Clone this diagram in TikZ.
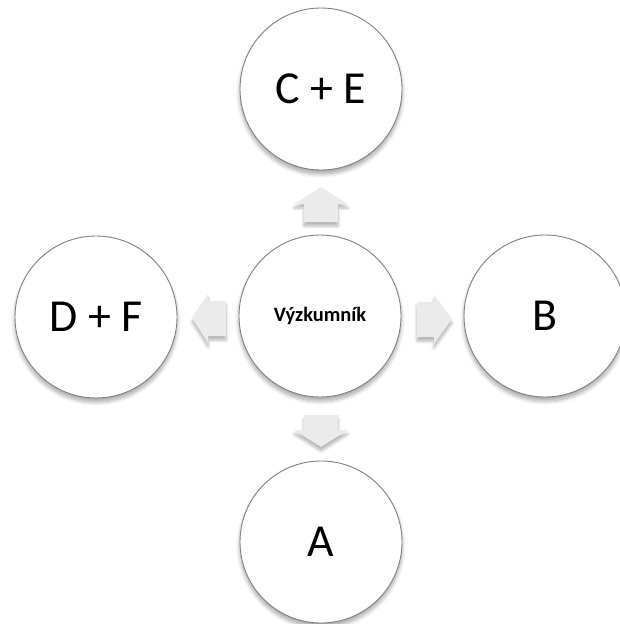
\documentclass[tikz,border=0pt]{standalone}
\usepackage{fontspec}
\setmainfont{Carlito}
\usetikzlibrary{shadows.blur}
\begin{document}
\begin{tikzpicture}[x=1bp,y=-1bp,
  bubble/.style={circle,draw=black!50,line width=0.9bp,fill=white,minimum size=162bp,inner sep=0pt,
    blur shadow={shadow xshift=0bp,shadow yshift=-4bp,shadow blur steps=8,shadow blur radius=4bp,shadow opacity=35},
    font=\fontsize{46}{54}\selectfont},
  hub/.style={bubble,font=\bfseries\fontsize{20.5}{24}\selectfont},
  blockarrow/.style={fill=black!8,draw=none,
    blur shadow={shadow xshift=0bp,shadow yshift=-4bp,shadow blur steps=6,shadow blur radius=3bp,shadow opacity=30}}
]
\useasboundingbox (0,0) rectangle (620,624);
\node[hub] (hub) at (320,316) {Výzkumník};
\node[bubble] (ce) at (321,89) {C + E};
\node[bubble] (df) at (96,317) {D + F};
\node[bubble] (b) at (545,316) {B};
\node[bubble] (a) at (321,542) {A};
% up arrow
\path[blockarrow] (321,187) -- (348,204) -- (338,204) -- (338,222) -- (304,222) -- (304,204) -- (294,204) -- cycle;
% down arrow
\path[blockarrow] (321,447) -- (348,430) -- (338,430) -- (338,415) -- (304,415) -- (304,430) -- (294,430) -- cycle;
% left arrow
\path[blockarrow] (192,318) -- (208,294) -- (208,301) -- (226,301) -- (226,336) -- (208,336) -- (208,343) -- cycle;
% right arrow
\path[blockarrow] (452,319) -- (434,295) -- (434,302) -- (417,302) -- (417,337) -- (434,337) -- (434,344) -- cycle;
\end{tikzpicture}
\end{document}
